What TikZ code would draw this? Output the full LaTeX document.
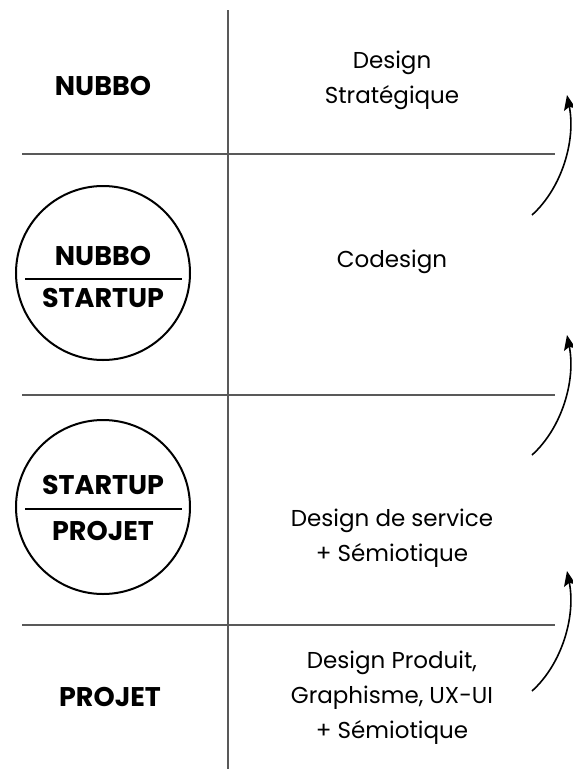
\documentclass[tikz,border=0pt]{standalone}
\usepackage{fontspec}
\setmainfont{Poppins}
\usetikzlibrary{arrows.meta}
\begin{document}
\begin{tikzpicture}[x=1pt,y=-1pt,
  grid/.style={draw=black!65,line width=1.3pt},
  lbl/.style={font=\fontsize{27}{30}\selectfont\bfseries,inner sep=0pt},
  txt/.style={font=\fontsize{23}{35}\selectfont,align=center,inner sep=0pt},
  ring/.style={draw,circle,line width=2pt,minimum size=174pt,inner sep=0pt},
  bar/.style={draw,line width=2pt},
  flow/.style={draw,line width=1.6pt,-{Stealth[length=15pt,width=12pt,inset=3pt]}}]
\useasboundingbox (0,0) rectangle (573,769);
% grid
\coordinate (vt) at (228,10);
\coordinate (vb) at (228,769);
\draw[grid] (vt) -- (vb);
\coordinate (h1l) at (22,154); \coordinate (h1r) at (555,154);
\coordinate (h2l) at (22,395); \coordinate (h2r) at (555,395);
\coordinate (h3l) at (22,625); \coordinate (h3r) at (555,625);
\draw[grid] (h1l) -- (h1r);
\draw[grid] (h2l) -- (h2r);
\draw[grid] (h3l) -- (h3r);
% left column
\node[lbl] (n1) at (103,86) {NUBBO};
\node[ring] (c1) at (103,273) {};
\node[lbl] (c1t) at (103,256) {NUBBO};
\node[lbl] (c1b) at (103,298) {STARTUP};
\coordinate (c1l) at (25,279); \coordinate (c1r) at (182,279);
\draw[bar] (c1l) -- (c1r);
\node[ring] (c2) at (103,507) {};
\node[lbl] (c2t) at (103,485) {STARTUP};
\node[lbl] (c2b) at (103,531) {PROJET};
\coordinate (c2l) at (25,509); \coordinate (c2r) at (182,509);
\draw[bar] (c2l) -- (c2r);
\node[lbl] (n4) at (110,697) {PROJET};
% right column
\node[txt] (t1) at (392,80) {Design\\Stratégique};
\node[txt] (t2) at (392,262) {Codesign};
\node[txt] (t3) at (392,538) {Design de service\\+ Sémiotique};
\node[txt] (t4) at (392,698) {Design Produit,\\Graphisme, UX-UI\\+ Sémiotique};
% arrows
\coordinate (a1s) at (532,215); \coordinate (a1e) at (567,95);
\coordinate (a2s) at (532,455); \coordinate (a2e) at (567,335);
\coordinate (a3s) at (532,691); \coordinate (a3e) at (567,571);
\draw[flow] (a1s) .. controls (562,188) and (576,140) .. (a1e);
\draw[flow] (a2s) .. controls (562,428) and (576,380) .. (a2e);
\draw[flow] (a3s) .. controls (562,664) and (576,616) .. (a3e);
\end{tikzpicture}
\end{document}
